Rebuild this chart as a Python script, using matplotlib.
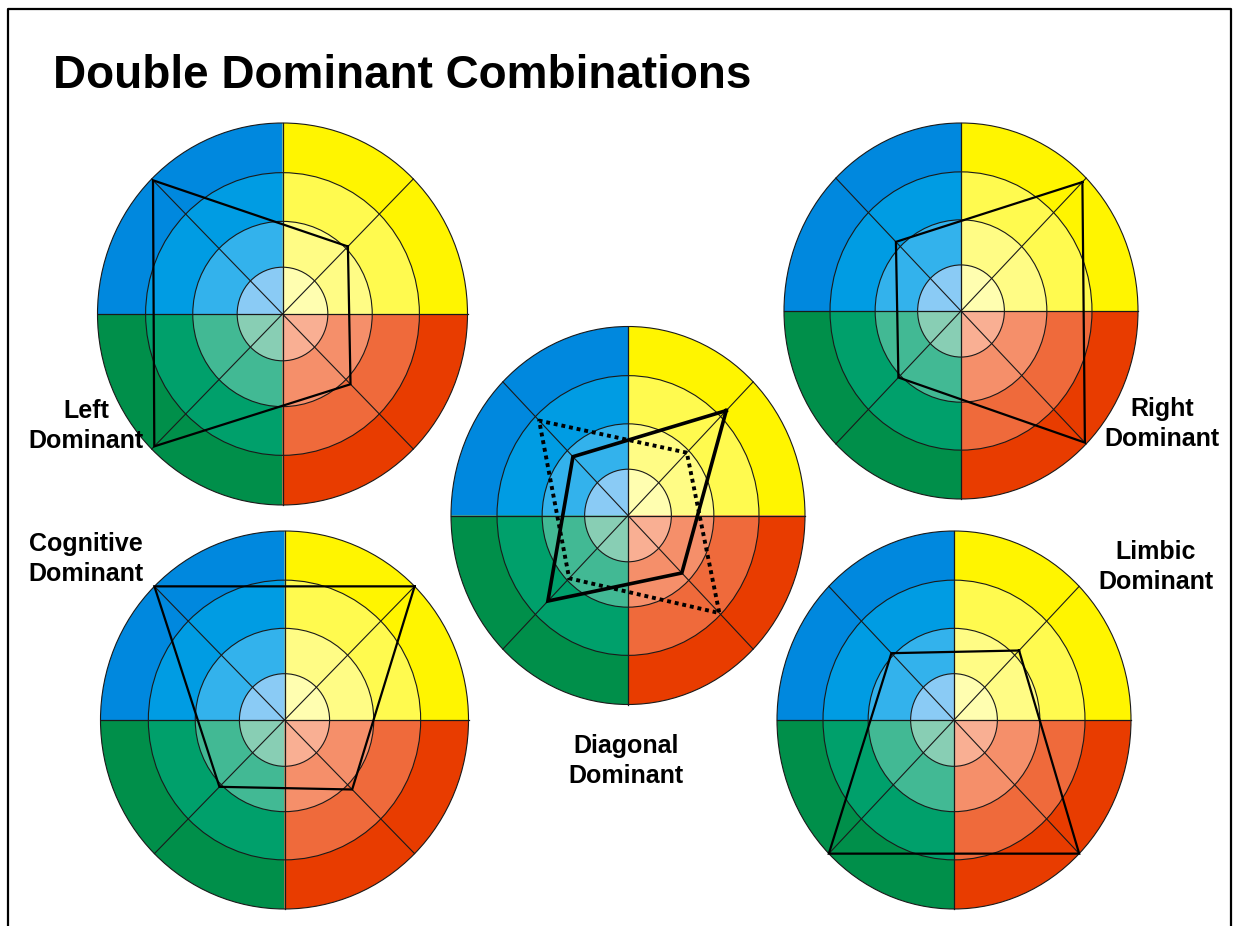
import numpy as np
import matplotlib.pyplot as plt
from matplotlib.patches import Wedge, Circle
from matplotlib.transforms import Affine2D

# ring radii (fraction of the wheel radius), outer to inner
ring_r = [1.0, 0.74, 0.485, 0.245]

# quadrant colours, outer ring to inner ring
quad_angles = [(0, 90), (90, 180), (180, 270), (270, 360)]
quad_colors = [
    ['#FFF500', '#FFFA4F', '#FFFC85', '#FFFEB0'],  # yellow (upper right)
    ['#0088DE', '#009CE3', '#33B2EC', '#8ACBF5'],  # blue (upper left)
    ['#008F4A', '#00A06B', '#42B994', '#88CEB4'],  # green (lower left)
    ['#E83C00', '#EF6A3B', '#F58F6A', '#F9AF93'],  # red (lower right)
]

# profile values on the four diagonals: NE, NW, SW, SE
axis_angles = [45, 135, 225, 315]
left_dom = [0.50, 0.99, 0.98, 0.52]
right_dom = [0.97, 0.52, 0.50, 0.99]
cognitive_dom = [1.0, 1.0, 0.50, 0.52]
limbic_dom = [0.52, 0.50, 1.0, 1.0]
diag_solid = [0.785, 0.44, 0.64, 0.43]
diag_dotted = [0.47, 0.71, 0.47, 0.73]

labels = ['Left\nDominant', 'Right\nDominant', 'Cognitive\nDominant',
          'Limbic\nDominant', 'Diagonal\nDominant']

fig = plt.figure(figsize=(12.37, 9.26), dpi=100)
ax = fig.add_axes([0, 0, 1, 1])
ax.set_xlim(0, 1237)
ax.set_ylim(926, 0)
ax.axis('off')

plt.rcParams['font.family'] = ['Liberation Sans', 'DejaVu Sans']


def draw_wheel(cx, cy, rx, ry):
    tr = Affine2D().scale(rx, -ry).translate(cx, cy) + ax.transData
    for i, r in enumerate(ring_r):
        for q, (t1, t2) in enumerate(quad_angles):
            ax.add_patch(Wedge((0, 0), r, t1, t2, facecolor=quad_colors[q][i],
                               edgecolor='none', transform=tr))
    for r in ring_r:
        ax.add_patch(Circle((0, 0), r, fill=False, edgecolor='#1a1a1a', lw=0.8, transform=tr))
    ax.plot([-1, 1], [0, 0], color='#1a1a1a', lw=0.9, transform=tr)
    ax.plot([0, 0], [-1, 1], color='#1a1a1a', lw=0.9, transform=tr)
    d = np.sqrt(0.5)
    ax.plot([-d, d], [-d, d], color='#1a1a1a', lw=0.8, transform=tr)
    ax.plot([-d, d], [d, -d], color='#1a1a1a', lw=0.8, transform=tr)
    return tr


def draw_profile(tr, vals, **kw):
    a = np.radians(axis_angles + [axis_angles[0]])
    v = np.array(vals + [vals[0]])
    ax.plot(v * np.cos(a), v * np.sin(a), color='black', transform=tr,
            solid_joinstyle='miter', **kw)


tr = draw_wheel(282.5, 314, 185, 191)
draw_profile(tr, left_dom, lw=1.6)
tr = draw_wheel(961, 311, 177, 188)
draw_profile(tr, right_dom, lw=1.6)
tr = draw_wheel(284.5, 720, 184, 189)
draw_profile(tr, cognitive_dom, lw=1.6)
tr = draw_wheel(954, 720, 177, 189)
draw_profile(tr, limbic_dom, lw=1.6)
tr = draw_wheel(628, 515.5, 177, 189)
draw_profile(tr, diag_solid, lw=2.6)
draw_profile(tr, diag_dotted, lw=2.8, linestyle=(0, (1, 1)), dash_capstyle='butt')

# frame
ax.plot([8, 8, 1231, 1231], [926, 9, 9, 926], color='black', lw=1.6)

ax.text(53, 76, 'Double Dominant Combinations', fontsize=33, fontweight='bold',
        ha='left', va='center')

label_pos = [(86, 426), (1162, 424), (86, 559), (1156, 567), (626, 761)]
for (x, y), s in zip(label_pos, labels):
    ax.text(x, y, s, fontsize=18, fontweight='bold', ha='center', va='center',
            linespacing=1.32)

fig.savefig('out.png', dpi=100)
